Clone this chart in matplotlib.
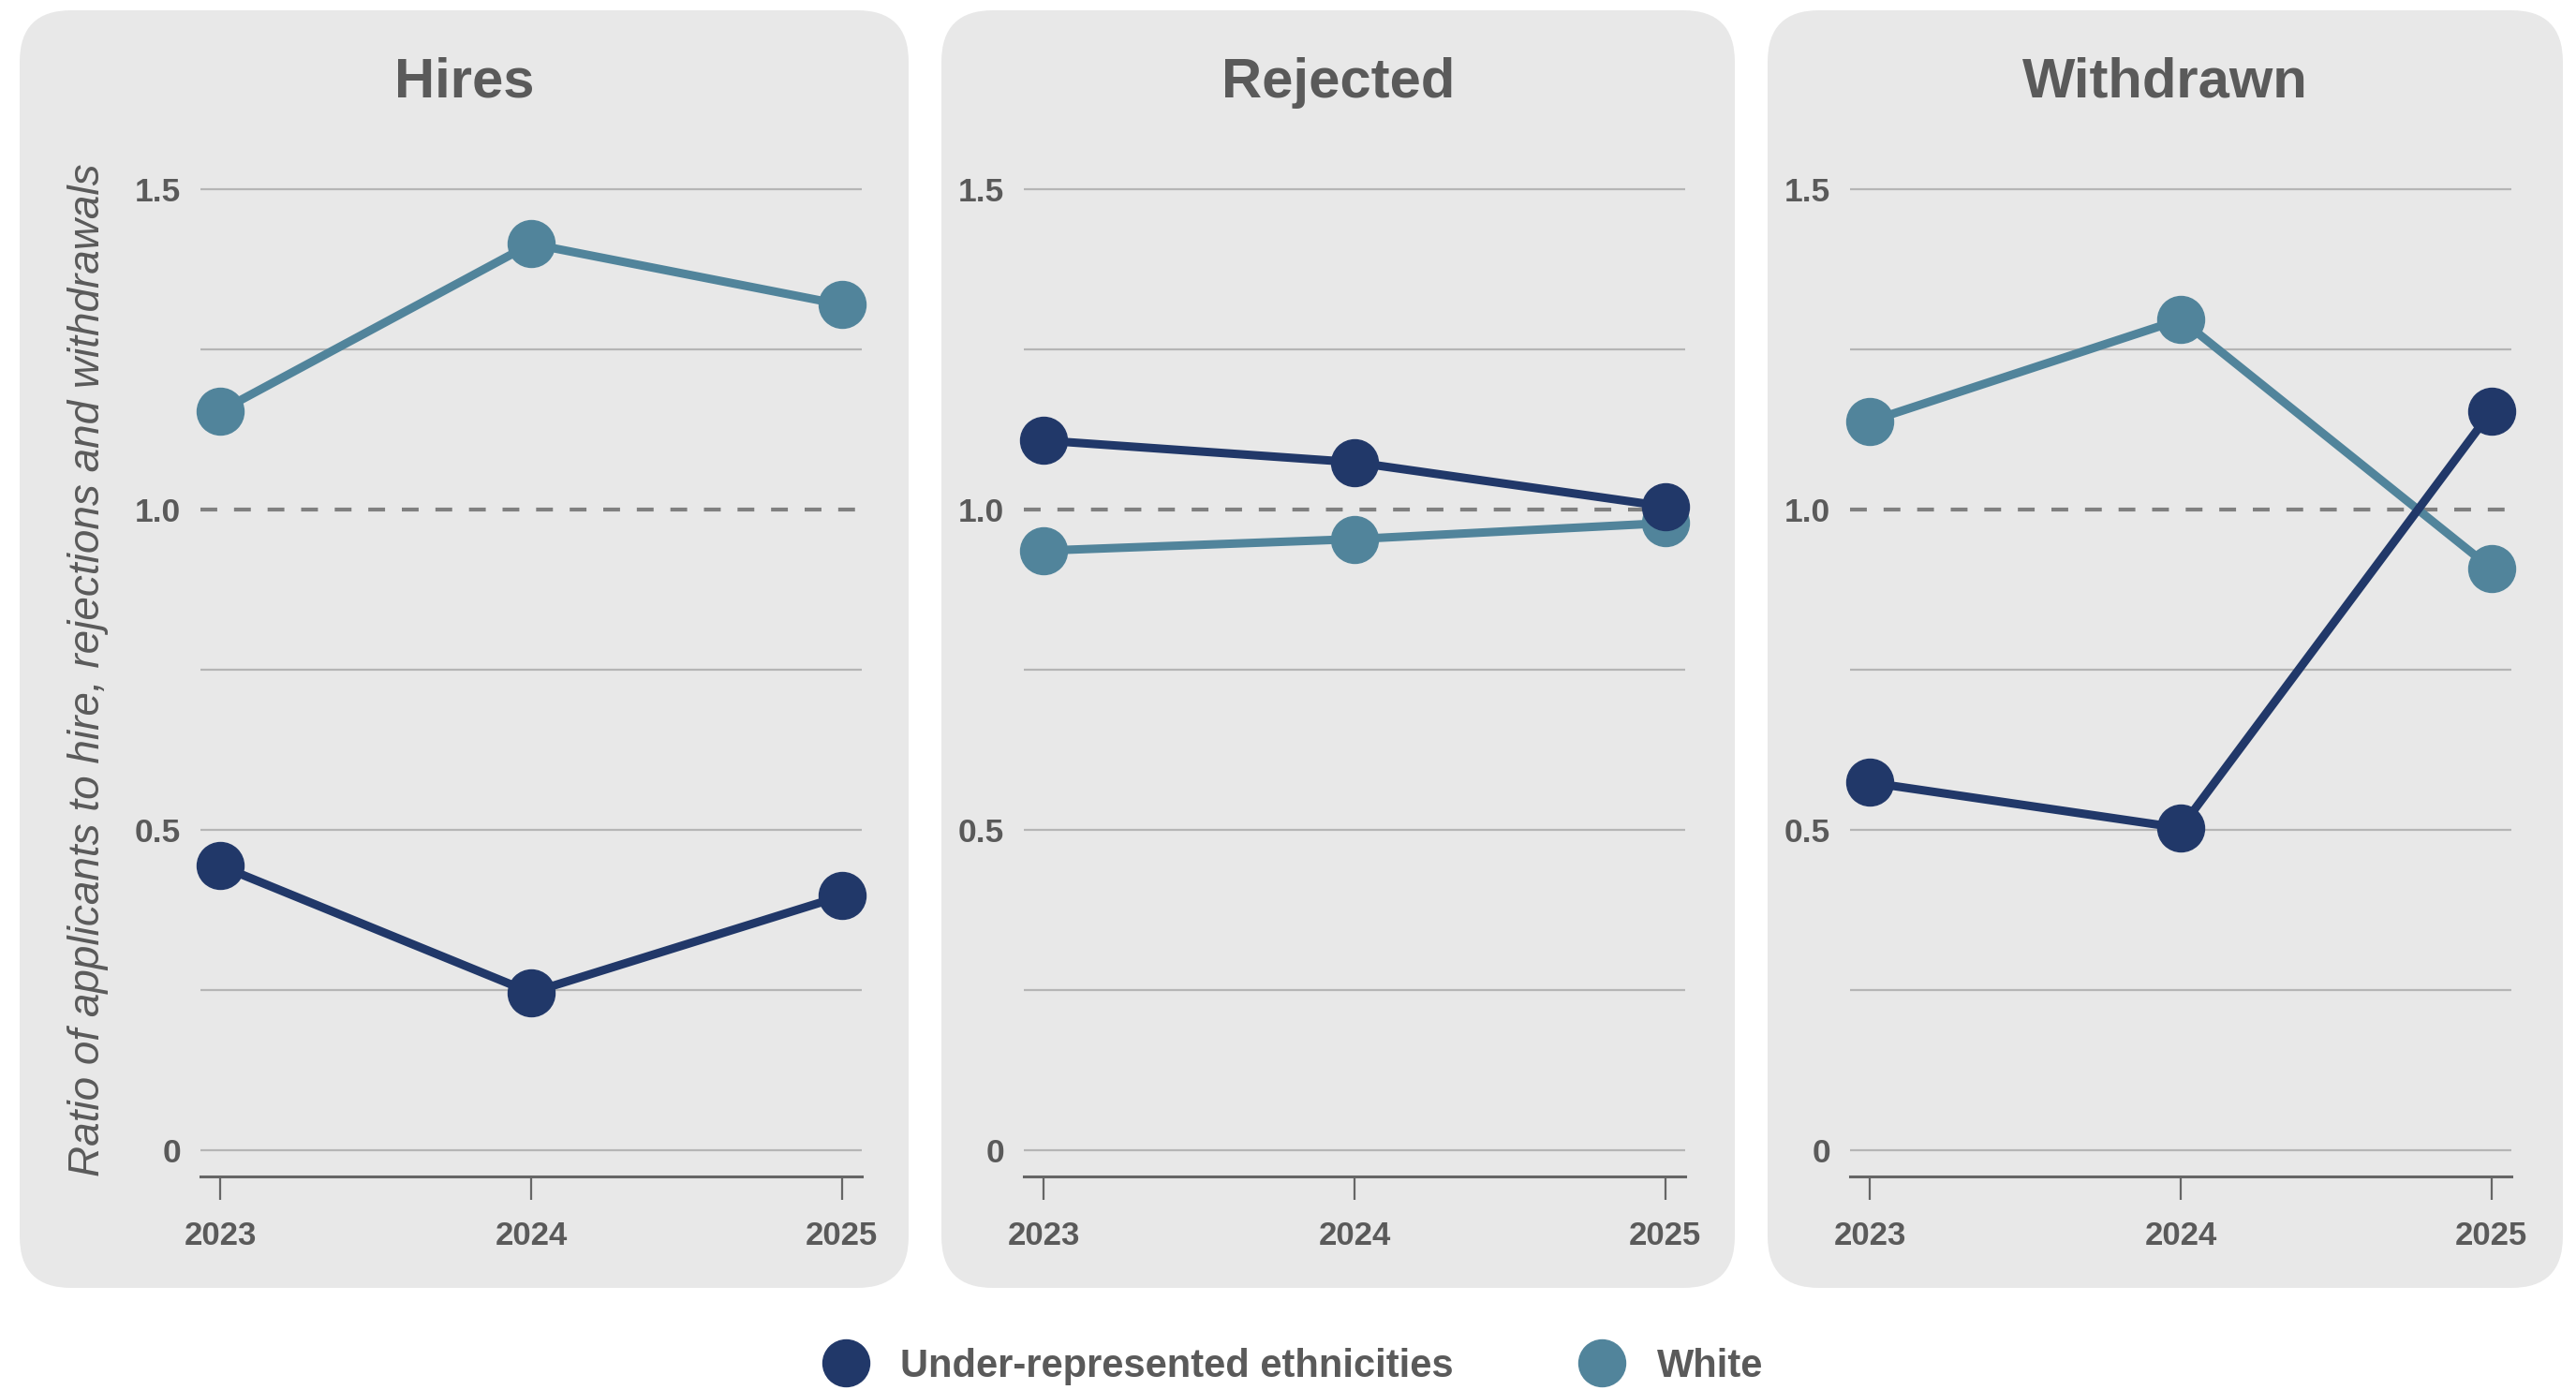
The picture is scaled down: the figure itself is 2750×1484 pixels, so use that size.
import numpy as np
import matplotlib
matplotlib.use('Agg')
import matplotlib.pyplot as plt
from matplotlib.patches import FancyBboxPatch
from matplotlib.lines import Line2D

plt.rcParams['font.family'] = ['Liberation Sans', 'DejaVu Sans']

years = [2023, 2024, 2025]
panels = ["Hires", "Rejected", "Withdrawn"]
series = ["Under-represented ethnicities", "White"]

ure_hires = [0.444, 0.246, 0.397]
white_hires = [1.154, 1.415, 1.320]
ure_rejected = [1.108, 1.074, 1.005]
white_rejected = [0.936, 0.954, 0.979]
ure_withdrawn = [0.574, 0.503, 1.154]
white_withdrawn = [1.138, 1.297, 0.908]

data = {
    "Hires": (ure_hires, white_hires),
    "Rejected": (ure_rejected, white_rejected),
    "Withdrawn": (ure_withdrawn, white_withdrawn),
}

c_ure = '#213869'
c_white = '#51849b'
c_text = '#5a5a5a'
c_bg = '#e8e8e8'

W, H = 2750, 1484
fig = plt.figure(figsize=(W / 100, H / 100), dpi=100)

# panel boxes in pixels (left, right), top/bottom
boxes = [(21, 970), (1005, 1852), (1887, 2736)]
box_top, box_bot = 11, 1375
ax_lefts = [214, 1093, 1975]
ax_w = 706
ax_bot_px, ax_top_px = 1256, 168

for i, name in enumerate(panels):
    l, r = boxes[i]
    patch = FancyBboxPatch((l / 100, (H - box_bot) / 100), (r - l) / 100, (box_bot - box_top) / 100,
                           boxstyle="round,pad=0,rounding_size=0.55",
                           transform=fig.dpi_scale_trans, facecolor=c_bg, edgecolor='none', zorder=-5)
    fig.patches.append(patch)

    ax = fig.add_axes([ax_lefts[i] / W, (H - ax_bot_px) / H, ax_w / W, (ax_bot_px - ax_top_px) / H])
    ax.set_zorder(2)
    ax.set_facecolor('none')
    ax.set_xlim(2022.936, 2025.064)
    ax.set_ylim(-0.041, 1.55)

    for g in [0, 0.25, 0.5, 0.75, 1.25, 1.5]:
        ax.axhline(g, color='#b5b5b5', lw=1.6, zorder=1)
    ax.axhline(1.0, color='#808080', lw=3, ls=(0, (4.3, 4.3)), zorder=1)

    ure, white = data[name]
    ax.plot(years, white, color=c_white, lw=6.5, marker='o', ms=36, zorder=3, clip_on=False)
    ax.plot(years, ure, color=c_ure, lw=6.5, marker='o', ms=36, zorder=4, clip_on=False)

    for s in ['top', 'right', 'left']:
        ax.spines[s].set_visible(False)
    ax.spines['bottom'].set_color('#666666')
    ax.spines['bottom'].set_linewidth(2.2)

    ax.set_xticks(years)
    ax.set_xticklabels([str(y) for y in years])
    ax.set_yticks([0, 0.5, 1.0, 1.5])
    ax.set_yticklabels(['0', '0.5', '1.0', '1.5'])
    ax.tick_params(axis='x', length=18, width=1.6, color='#666666', pad=16,
                   labelsize=25, labelcolor=c_text)
    ax.tick_params(axis='y', length=0, pad=15, labelsize=25.5, labelcolor=c_text)
    for t in ax.get_xticklabels() + ax.get_yticklabels():
        t.set_fontweight('bold')

    fig.text((l + r) / 2 / W, 1 - 88 / H, name, ha='center', va='center',
             fontsize=43, fontweight='bold', color=c_text)

    if i == 0:
        ax.set_ylabel("Ratio of applicants to hire, rejections and withdrawals",
                      fontsize=33, style='italic', color=c_text)
        ax.yaxis.set_label_coords(-0.139, 0.497)

handles = [Line2D([], [], color=c, marker='o', ms=36, ls='none') for c in (c_ure, c_white)]
leg = fig.legend(handles, series, loc='center', bbox_to_anchor=(0.5026, 1 - 1459 / H),
                 ncol=2, frameon=False, handlelength=1.0, handletextpad=0.9,
                 columnspacing=3.3, prop={'size': 30, 'weight': 'bold'})
for t in leg.get_texts():
    t.set_color(c_text)

fig.savefig('out.png', dpi=100)
